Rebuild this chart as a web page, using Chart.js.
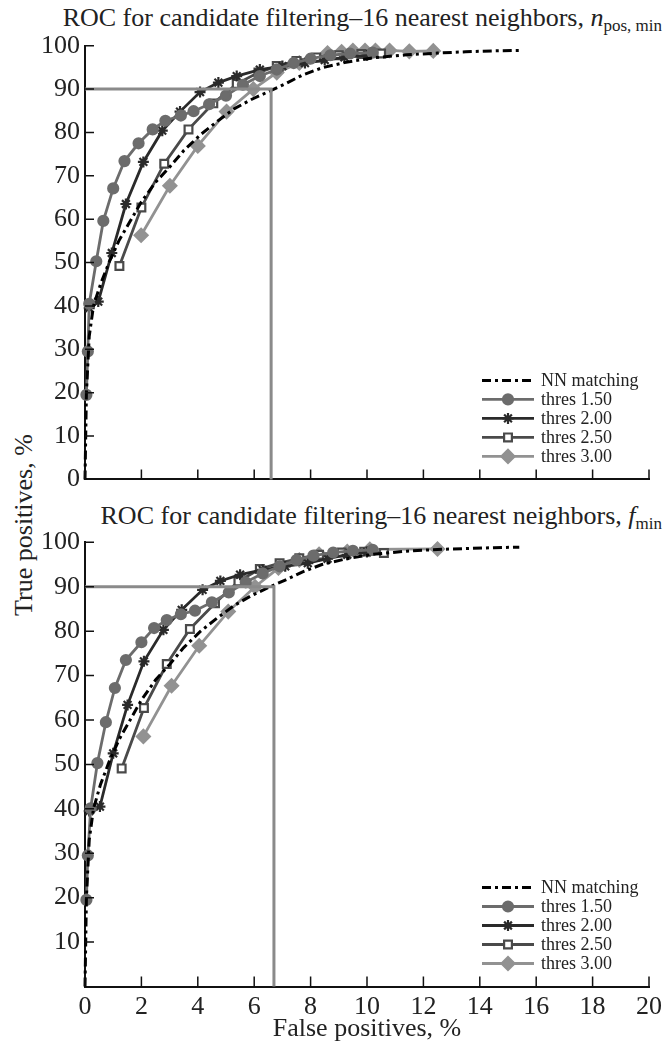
<!DOCTYPE html>
<html>
<head>
<meta charset="utf-8">
<script src="https://cdn.jsdelivr.net/npm/chart.js@4.4.1/dist/chart.umd.min.js"></script>
<style>
  body { margin: 0; background: #fff; }
  #page { position: relative; width: 669px; height: 1045px; font-family: 'Liberation Serif', 'DejaVu Serif', serif; color: #222; }
  .box { position: absolute; left: 0; }
  .title { position: absolute; left: 0; width: 662px; text-align: right; font-size: 26px; line-height: 30px; white-space: nowrap; }
  .title sub { font-size: 17px; vertical-align: -5px; line-height: 0; }
  #ylab { position: absolute; left: -76px; top: 510px; width: 200px; line-height: 30px; text-align: center; font-size: 26px; transform: rotate(-90deg); }
</style>
</head>
<body>
<div id="page">
  <div class="title" style="top:3px">ROC for candidate filtering–16 nearest neighbors, <i>n</i><sub>pos, min</sub></div>
  <div class="title" style="top:501px">ROC for candidate filtering–16 nearest neighbors, <i>f</i><sub>min</sub></div>
  <div id="ylab">True positives, %</div>
  <div class="box" style="top:0"><canvas id="c1" width="669" height="500"></canvas></div>
  <div class="box" style="top:500px"><canvas id="c2" width="669" height="545"></canvas></div>
</div>
<script>
// tick values
const xTicks = [0, 2, 4, 6, 8, 10, 12, 14, 16, 18, 20];
const yTicks = [0, 10, 20, 30, 40, 50, 60, 70, 80, 90, 100];
const seriesNames = ['NN matching', 'thres 1.50', 'thres 2.00', 'thres 2.50', 'thres 3.00'];

// top chart (n_pos,min)
const nn1X = [0, 0.05, 0.15, 0.3, 0.55, 0.85, 1.2, 1.6, 2.0, 2.5, 3.0, 3.5, 4.1, 4.7, 5.3, 5.9, 6.5, 7.1, 7.7, 8.4, 9.2, 10.2, 11.4, 12.5, 13.5, 14.5, 15.4];
const nn1Y = [0, 20, 33, 40, 45, 50, 55, 59.5, 64, 68.5, 72, 75.8, 79.5, 82.6, 85.5, 87.6, 89.4, 91.2, 93.2, 94.9, 96.1, 97.2, 97.9, 98.3, 98.6, 98.8, 98.9];
const t15aX = [0.05, 0.1, 0.15, 0.4, 0.65, 1.0, 1.4, 1.9, 2.4, 2.85, 3.4, 3.85, 4.4, 5.0, 5.6, 6.2, 6.8, 7.4, 8.0, 8.7, 9.4, 10.2];
const t15aY = [19.5, 29.5, 40.5, 50.3, 59.6, 67.1, 73.4, 77.5, 80.7, 82.7, 83.9, 84.9, 86.5, 88.5, 91, 93, 94.5, 96, 97, 97.8, 98.2, 98.4];
const t20aX = [0.15, 0.47, 0.95, 1.45, 2.07, 2.74, 3.37, 4.08, 4.73, 5.38, 6.2, 7.0, 7.8, 8.5, 9.2, 10.0];
const t20aY = [39.5, 41, 52.2, 63.5, 73.2, 80.4, 84.8, 89.3, 91.5, 93, 94.5, 95.3, 96, 96.7, 97.3, 97.8];
const t25aX = [1.22, 2.0, 2.81, 3.67, 4.55, 5.38, 6.15, 6.8, 7.5, 8.2, 9.0, 9.8, 10.5];
const t25aY = [49.2, 62.7, 72.8, 80.7, 86.7, 91.2, 93.8, 95.3, 96.5, 97.3, 97.8, 98.1, 98.2];
const t30aX = [1.99, 3.01, 4.0, 5.02, 5.97, 6.8, 7.6, 8.6, 9.1, 9.5, 9.93, 10.3, 10.8, 11.5, 12.35];
const t30aY = [56.3, 67.7, 76.9, 84.8, 90, 93.8, 96, 98.3, 98.6, 98.9, 98.9, 98.9, 98.9, 98.7, 98.8];
const ref1X = [0, 6.6, 6.6];
const ref1Y = [90, 90, 0];

// bottom chart (f_min)
const nn2X = [0, 0.05, 0.15, 0.3, 0.55, 0.85, 1.2, 1.6, 2.0, 2.5, 3.0, 3.5, 4.1, 4.7, 5.3, 5.9, 6.5, 7.1, 7.7, 8.4, 9.2, 10.2, 11.4, 12.5, 13.5, 14.5, 15.4];
const nn2Y = [0, 20, 33, 40, 45.5, 50.5, 55.5, 60, 64.5, 69, 72.5, 76.3, 80, 83, 85.8, 88, 89.8, 91.5, 93.3, 95, 96.2, 97.3, 98, 98.4, 98.6, 98.8, 98.9];
const t15bX = [0.05, 0.1, 0.2, 0.44, 0.74, 1.06, 1.45, 2.0, 2.45, 2.9, 3.4, 3.9, 4.5, 5.1, 5.7, 6.3, 6.9, 7.5, 8.1, 8.8, 9.5, 10.2];
const t15bY = [19.5, 29.5, 40.1, 50.3, 59.5, 67.2, 73.5, 77.5, 80.7, 82.5, 83.8, 84.6, 86.5, 88.7, 91, 93, 94.6, 96, 97, 97.7, 98.1, 98.3];
const t20bX = [0.15, 0.53, 1.0, 1.51, 2.09, 2.78, 3.43, 4.17, 4.8, 5.5, 6.3, 7.1, 7.9, 8.6, 9.3, 10.0];
const t20bY = [39.5, 40.5, 52.5, 63.4, 73.2, 80.3, 84.8, 89.3, 91.3, 92.7, 93.8, 94.6, 95.3, 96.3, 97.2, 97.8];
const t25bX = [1.3, 2.09, 2.9, 3.72, 4.61, 5.44, 6.2, 6.9, 7.6, 8.3, 9.1, 9.9, 10.6];
const t25bY = [49.1, 62.7, 72.6, 80.5, 86.3, 91.2, 94, 95.3, 96.4, 97.2, 97.7, 97.9, 97.6];
const t30bX = [2.07, 3.07, 4.05, 5.08, 6.03, 6.86, 7.6, 8.3, 9.3, 10.1, 12.5];
const t30bY = [56.3, 67.7, 76.7, 84.4, 90, 94.2, 96, 97.3, 97.9, 98.4, 98.5];
const ref2X = [0, 6.7, 6.7];
const ref2Y = [90, 90, 0];

const serif = 'Liberation Serif';

function pts(xs, ys) {
  return xs.map((x, i) => ({ x: x, y: ys[i] }));
}

const styles = [
  { color: '#000', dash: [9, 4, 3, 4], pointStyle: false, radius: 0, bg: '#000' },
  { color: '#6c6c6c', dash: [], pointStyle: 'circle', radius: 5, bg: '#6c6c6c' },
  { color: '#2a2a2a', dash: [], pointStyle: 'star', radius: 5.5, bg: '#2a2a2a' },
  { color: '#4a4a4a', dash: [], pointStyle: 'rect', radius: 5.5, bg: '#ffffff' },
  { color: '#929292', dash: [], pointStyle: 'rectRot', radius: 6.5, bg: '#929292' }
];

function makeSets(list, refX, refY) {
  const sets = list.map((s, i) => ({
    label: seriesNames[i],
    data: pts(s[0], s[1]),
    borderColor: styles[i].color,
    backgroundColor: styles[i].bg,
    pointBackgroundColor: styles[i].bg,
    pointBorderColor: styles[i].color,
    borderWidth: i === 0 ? 3 : 2.8,
    borderDash: styles[i].dash,
    pointStyle: styles[i].pointStyle,
    pointRadius: styles[i].radius,
    pointBorderWidth: 2.2,
    tension: 0,
    clip: false,
    legendOn: true
  }));
  sets.unshift({
    label: 'ref',
    data: pts(refX, refY),
    borderColor: '#8a8a8a',
    borderWidth: 3,
    pointRadius: 0,
    tension: 0,
    clip: false
  });
  return sets;
}

// tick marks pointing into the plot
const inTicks = {
  id: 'inTicks',
  afterDraw(chart) {
    const { ctx, chartArea: a, scales } = chart;
    ctx.save();
    ctx.strokeStyle = '#111';
    ctx.lineWidth = 1.5;
    ctx.beginPath();
    xTicks.forEach(v => {
      const px = scales.x.getPixelForValue(v);
      ctx.moveTo(px, a.bottom);
      ctx.lineTo(px, a.bottom - 10);
    });
    yTicks.forEach(v => {
      if (v === 0) return;
      const py = scales.y.getPixelForValue(v);
      ctx.moveTo(a.left, py);
      ctx.lineTo(a.left + 9, py);
    });
    ctx.stroke();
    ctx.restore();
  }
};

// legend with line sample and marker, lower right of the plot
const lineLegend = {
  id: 'lineLegend',
  afterDraw(chart) {
    const { ctx, chartArea: a } = chart;
    const sets = chart.data.datasets.filter(d => d.legendOn);
    ctx.save();
    sets.forEach((d, i) => {
      const y = a.bottom - 99 + i * 19;
      const x0 = 482, x1 = 534;
      ctx.strokeStyle = d.borderColor;
      ctx.lineWidth = d.borderWidth;
      ctx.setLineDash(d.borderDash);
      ctx.beginPath();
      ctx.moveTo(x0, y);
      ctx.lineTo(x1, y);
      ctx.stroke();
      ctx.setLineDash([]);
      if (d.pointStyle) {
        ctx.fillStyle = d.pointBackgroundColor;
        ctx.strokeStyle = d.pointBorderColor;
        ctx.lineWidth = d.pointBorderWidth;
        Chart.helpers.drawPoint(ctx, { pointStyle: d.pointStyle, radius: d.pointRadius, rotation: 0, borderWidth: d.pointBorderWidth }, (x0 + x1) / 2, y);
      }
      ctx.fillStyle = '#222';
      ctx.font = '18px ' + serif;
      ctx.textBaseline = 'middle';
      ctx.textAlign = 'left';
      ctx.fillText(d.label, 541, y + 1);
    });
    ctx.restore();
  }
};

function makeChart(id, sets, bottom) {
  return new Chart(document.getElementById(id), {
    type: 'line',
    data: { datasets: sets },
    options: {
      responsive: false,
      animation: false,
      devicePixelRatio: 1,
      layout: { padding: { left: 0, right: 20, top: bottom ? 42.3 : 45.7, bottom: 0 } },
      plugins: { legend: { display: false }, tooltip: { enabled: false }, title: { display: false } },
      scales: {
        x: {
          type: 'linear', min: 0, max: 20,
          grid: { display: false, drawTicks: false },
          border: { display: true, color: '#111', width: 2 },
          afterBuildTicks: s => { s.ticks = xTicks.map(v => ({ value: v })); },
          afterFit: s => { s.height = bottom ? 58.5 : 9.3; },
          ticks: { display: bottom, padding: 5, color: '#222', font: { family: serif, size: 26 } },
          title: { display: bottom, text: 'False positives, %', color: '#222', font: { family: serif, size: 26 }, padding: { top: 0, bottom: 0 } }
        },
        y: {
          min: 0, max: 100,
          grid: { display: false, drawTicks: false },
          border: { display: true, color: '#111', width: 2 },
          afterBuildTicks: s => { s.ticks = yTicks.map(v => ({ value: v })); },
          afterFit: s => { s.width = 85; },
          ticks: {
            padding: 5, color: '#222', font: { family: serif, size: 26 },
            callback: v => (bottom && v === 0) ? '' : v
          }
        }
      }
    },
    plugins: [inTicks, lineLegend]
  });
}

makeChart('c1', makeSets([[nn1X, nn1Y], [t15aX, t15aY], [t20aX, t20aY], [t25aX, t25aY], [t30aX, t30aY]], ref1X, ref1Y), false);
makeChart('c2', makeSets([[nn2X, nn2Y], [t15bX, t15bY], [t20bX, t20bY], [t25bX, t25bY], [t30bX, t30bY]], ref2X, ref2Y), true);
</script>
</body>
</html>
